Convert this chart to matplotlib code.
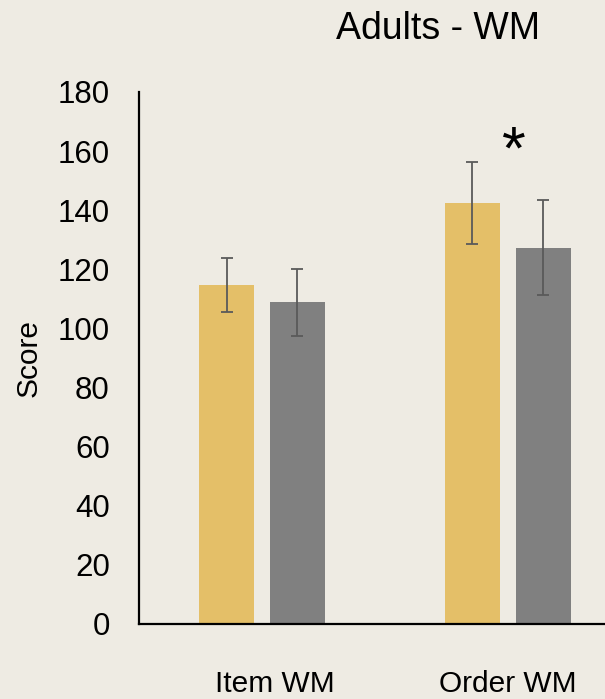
import matplotlib
matplotlib.use("Agg")
import matplotlib.pyplot as plt
import matplotlib.transforms as mtransforms
import numpy as np

# Working-memory scores for adults
categories = ["Item WM", "Order WM"]
group_a = [114.6, 142.5]
group_a_err = [9.1, 13.9]
group_b = [108.8, 127.3]
group_b_err = [11.3, 16.0]
y_ticks = [0, 20, 40, 60, 80, 100, 120, 140, 160, 180]

BG = "#EEEBE3"
YELLOW = "#E4BF68"
GRAY = "#808080"
ERR = "#5A5A5A"
FONT = ["Liberation Sans", "DejaVu Sans"]

plt.rcParams["font.family"] = FONT

fig = plt.figure(figsize=(6.05, 6.99), dpi=100, facecolor=BG)
ax = fig.add_axes([0.2298, 0.1073, 0.813, 0.7611], facecolor=BG)

x = np.arange(len(categories)) + 0.5
w = 0.2236
off = 0.1443
ekw = dict(ecolor=ERR, elinewidth=1.3, capsize=4, capthick=1.3)
ax.bar(x - off, group_a, w, color=YELLOW, yerr=group_a_err, error_kw=ekw, zorder=2)
ax.bar(x + off, group_b, w, color=GRAY, yerr=group_b_err, error_kw=ekw, zorder=2)

ax.set_xlim(0, 2)
ax.set_ylim(0, 180)
ax.set_yticks(y_ticks)
ax.set_yticklabels([str(t) for t in y_ticks], fontsize=22.5)
ax.set_xticks(x)
ax.set_xticklabels(categories, fontsize=21.5)
ax.tick_params(axis="y", length=0, pad=21)
ax.tick_params(axis="x", length=0, pad=33)

# the first category label sits a little right of its group centre
first = ax.get_xticklabels()[0]
first.set_transform(first.get_transform() +
                    mtransforms.ScaledTranslation(13 / 100, 0, fig.dpi_scale_trans))

for side in ("top", "right"):
    ax.spines[side].set_visible(False)
for side in ("left", "bottom"):
    ax.spines[side].set_color("black")
    ax.spines[side].set_linewidth(1.6)

ax.set_ylabel("Score", fontsize=21.5, labelpad=11)

# Significance marker above the Order WM pair
ax.text(x[1] + 0.024, 159.5, "*", ha="center", va="center", fontsize=44, color="black")

fig.text(438 / 605, 1 - 29 / 699, "Adults - WM", ha="center", va="center",
         fontsize=27, color="black")

fig.savefig("out.png", dpi=100, facecolor=BG)
